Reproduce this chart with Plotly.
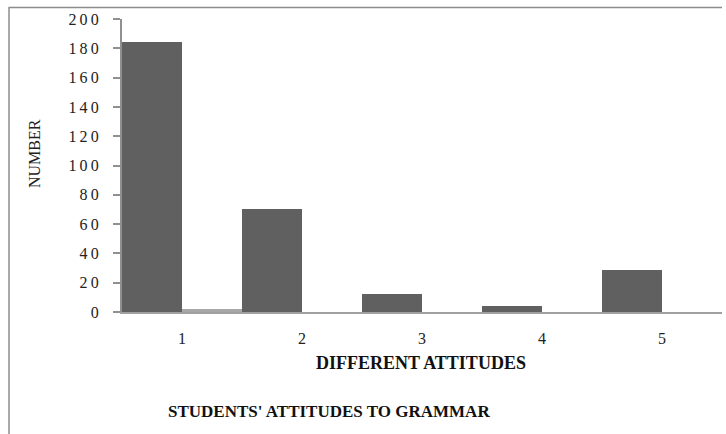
import plotly.graph_objects as go

categories = ["1", "2", "3", "4", "5"]
series_dark = [184, 70, 12, 4, 29]
series_light = [2, 0, 0, 0, 0]
y_tick_values = [0, 20, 40, 60, 80, 100, 120, 140, 160, 180, 200]
y_tick_labels = ["\u2009".join(str(v)) for v in y_tick_values]

W, H = 726, 434
L, R, T, B = 122, 4, 19, 122
pw, ph = W - L - R, H - T - B

def px(x):
    return (x - L) / pw

def py(y):
    return (H - B - y) / ph

serif = "Liberation Serif, Times New Roman, serif"

fig = go.Figure()
fig.add_trace(go.Bar(x=categories, y=series_dark, marker=dict(color="#606060", line=dict(width=0)), name="A"))
fig.add_trace(go.Bar(x=categories, y=series_light, marker=dict(color="#a8a8a8", line=dict(width=0)), name="B"))

fig.update_layout(
    width=W, height=H,
    margin=dict(l=L, r=R, t=T, b=B, pad=0),
    paper_bgcolor="white", plot_bgcolor="white",
    barmode="group", bargap=0, bargroupgap=0,
    showlegend=False,
    font=dict(family=serif, size=16, color="#222222"),
    xaxis=dict(type="category", showgrid=False, showline=True, linecolor="#a0a0a0", linewidth=2,
               ticks="", ticklabelstandoff=11, tickfont=dict(family=serif, size=16, color="#222222"),
               zeroline=False),
    yaxis=dict(range=[0, 200], tickvals=y_tick_values, ticktext=y_tick_labels, showgrid=False,
               showline=True, linecolor="#909090", linewidth=2, ticks="outside", ticklen=7,
               tickcolor="#909090", tickwidth=1.5, ticklabelstandoff=11,
               tickfont=dict(family=serif, size=16, color="#222222"), zeroline=False),
    shapes=[
        dict(type="line", xref="paper", yref="paper", x0=px(8.5), x1=px(722), y0=py(7.5), y1=py(7.5),
             line=dict(color="#8c8c8c", width=1.5)),
        dict(type="line", xref="paper", yref="paper", x0=px(9), x1=px(9), y0=py(7.5), y1=py(434),
             line=dict(color="#8c8c8c", width=1.5)),
    ],
    annotations=[
        dict(text="NUMBER", xref="paper", yref="paper", x=px(34), y=py(154), textangle=-90,
             showarrow=False, font=dict(family=serif, size=16, color="#222222"),
             xanchor="center", yanchor="middle"),
        dict(text="<b>DIFFERENT ATTITUDES</b>", xref="paper", yref="paper", x=px(421), y=py(363),
             showarrow=False, font=dict(family=serif, size=18, color="#111111"),
             xanchor="center", yanchor="middle"),
        dict(text="<b>STUDENTS' ATTITUDES TO GRAMMAR</b>", xref="paper", yref="paper", x=px(329), y=py(411),
             showarrow=False, font=dict(family=serif, size=17, color="#111111"),
             xanchor="center", yanchor="middle"),
    ],
)

fig.write_html("out.html")
